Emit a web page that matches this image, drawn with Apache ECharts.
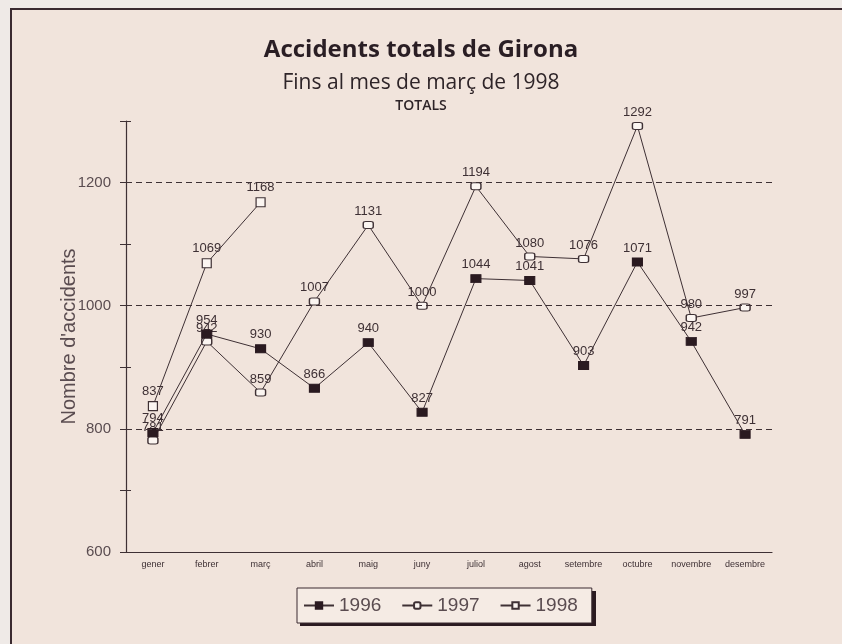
<!DOCTYPE html>
<html>
<head>
<meta charset="utf-8">
<script src="https://cdn.jsdelivr.net/npm/echarts@6/dist/echarts.min.js"></script>
<style>
html,body{margin:0;padding:0;background:#efeae7;}
#chart{width:842px;height:644px;}
</style>
</head>
<body>
<div id="chart"></div>
<script>
const months = ['gener','febrer','març','abril','maig','juny','juliol','agost','setembre','octubre','novembre','desembre'];
const data1996 = [794, 954, 930, 866, 940, 827, 1044, 1041, 903, 1071, 942, 791];
const data1997 = [781, 942, 859, 1007, 1131, 1000, 1194, 1080, 1076, 1292, 980, 997];
const data1998 = [837, 1069, 1168];
const seriesNames = ['1996', '1997', '1998'];
const gridLines = [800, 1000, 1200];
const yLabelValues = [600, 800, 1000, 1200];

const ink = '#3e3034';
const openFill = '#fbf5f1';
const labelStyle = {show:true, position:'top', distance:3, fontSize:13, color:ink, fontFamily:'Liberation Sans, Arial'};

const chart = echarts.init(document.getElementById('chart'), null, {renderer:'canvas'});
chart.setOption({
  backgroundColor:'#efeae7',
  animation:false,
  graphic:[{
    type:'rect', z:-10, silent:true,
    shape:{x:11, y:9, width:850, height:650},
    style:{fill:'#f1e4dc', stroke:'#3a2a30', lineWidth:2}
  },{
    type:'rect', z:1, silent:true,
    shape:{x:300, y:591, width:296, height:35},
    style:{fill:'#2a1a20'}
  }],
  title:[
    {text:'Accidents totals de Girona', left:'center', top:33, textStyle:{fontFamily:'Open Sans', fontWeight:'bold', fontSize:24, color:'#2a1e24'}},
    {text:'Fins al mes de març de 1998', left:'center', top:68, textStyle:{fontFamily:'Open Sans', fontWeight:'normal', fontSize:21, color:'#2e2428'}},
    {text:'TOTALS', left:'center', top:94, textStyle:{fontFamily:'Open Sans', fontWeight:600, fontSize:14, color:'#2e2428'}}
  ],
  legend:{
    data:seriesNames,
    left:297, top:588, z:5,
    orient:'horizontal',
    padding:[8,14,8,6],
    itemGap:20,
    itemWidth:30, itemHeight:8,
    backgroundColor:'#f5ebe4',
    borderColor:'#3a2a30', borderWidth:1,
    textStyle:{fontSize:19, color:'#5a4c50', fontFamily:'Liberation Sans, Arial'}
  },
  grid:{left:126, right:70, top:121, bottom:92, containLabel:false},
  xAxis:[{
    type:'category', data:months, boundaryGap:true,
    axisLine:{lineStyle:{color:ink, width:1.2}},
    axisTick:{alignWithLabel:true, length:6, lineStyle:{color:ink}},
    axisLabel:{fontSize:9, color:ink, fontFamily:'Liberation Sans Narrow, Liberation Sans, Arial', margin:8, interval:0},
    splitLine:{show:false}
  },{
    type:'category', data:months, boundaryGap:true, position:'bottom',
    axisLine:{show:false},
    axisTick:{inside:true, alignWithLabel:true, length:5, lineStyle:{color:ink}},
    axisLabel:{show:false}, splitLine:{show:false}
  }],
  yAxis:[{
    type:'value', min:600, max:1300, interval:100,
    axisLine:{show:true, lineStyle:{color:ink, width:1.2}},
    axisTick:{show:true, length:6, lineStyle:{color:ink}},
    axisLabel:{fontSize:15, color:'#5a4c50', fontFamily:'Liberation Sans, Arial', margin:15,
      formatter:function(v){return yLabelValues.indexOf(v) >= 0 ? String(v) : '';}},
    splitLine:{show:false},
    name:"Nombre d'accidents", nameLocation:'middle', nameGap:47, nameRotate:90,
    nameMoveOverlap:false,
    nameTextStyle:{fontSize:20, color:'#5a4c50', fontFamily:'Liberation Sans, Arial'}
  },{
    type:'value', min:600, max:1300, interval:100, position:'left',
    axisLine:{show:false},
    axisTick:{show:true, inside:true, length:5, lineStyle:{color:ink}},
    axisLabel:{show:false}, splitLine:{show:false}
  }],
  series:[{
    name:seriesNames[0], type:'line', data:data1996,
    symbol:'rect', symbolSize:[10,8],
    lineStyle:{color:ink, width:1},
    itemStyle:{color:'#2a1a20', borderColor:'#2a1a20', borderWidth:1},
    label:labelStyle, z:4,
    markLine:{
      silent:true, symbol:'none', animation:false,
      label:{show:false},
      lineStyle:{color:ink, type:[6,4], width:1.2},
      data:gridLines.map(function(v){return {yAxis:v};})
    }
  },{
    name:seriesNames[1], type:'line', data:data1997,
    symbol:'roundRect', symbolSize:[10,7],
    lineStyle:{color:ink, width:1},
    itemStyle:{color:openFill, borderColor:ink, borderWidth:1.2},
    label:labelStyle, z:3
  },{
    name:seriesNames[2], type:'line', data:data1998,
    symbol:'rect', symbolSize:[9,9],
    lineStyle:{color:ink, width:1},
    itemStyle:{color:openFill, borderColor:ink, borderWidth:1.2},
    label:labelStyle, z:3
  }]
});
</script>
</body>
</html>
